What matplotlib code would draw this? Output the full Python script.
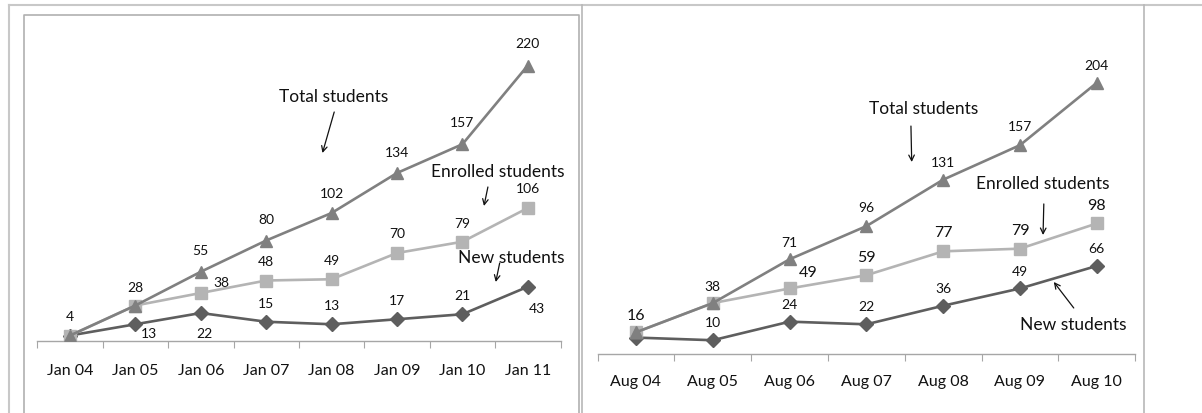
import numpy as np
import matplotlib
matplotlib.use("Agg")
import matplotlib.pyplot as plt
from matplotlib.lines import Line2D

plt.rcParams['font.family'] = ['Lato', 'DejaVu Sans']

# 左图数据（1月）
jan_labels = ['Jan 04', 'Jan 05', 'Jan 06', 'Jan 07', 'Jan 08', 'Jan 09', 'Jan 10', 'Jan 11']
jan_total = [4, 28, 55, 80, 102, 134, 157, 220]
jan_enrolled = [4, 28, 38, 48, 49, 70, 79, 106]
jan_new = [4, 13, 22, 15, 13, 17, 21, 43]

# 右图数据（8月）
aug_labels = ['Aug 04', 'Aug 05', 'Aug 06', 'Aug 07', 'Aug 08', 'Aug 09', 'Aug 10']
aug_total = [16, 38, 71, 96, 131, 157, 204]
aug_enrolled = [16, 38, 49, 59, 77, 79, 98]
aug_new = [12, 10, 24, 22, 36, 49, 66]

# 哪些点显示数值标签
jan_show = {
    'total': [1, 1, 1, 1, 1, 1, 1, 1],
    'enrolled': [0, 0, 1, 1, 1, 1, 1, 1],
    'new': [0, 1, 1, 1, 1, 1, 1, 1],
}
aug_show = {
    'total': [0, 1, 1, 1, 1, 1, 1],
    'enrolled': [1, 0, 1, 1, 1, 1, 1],
    'new': [0, 1, 1, 1, 1, 1, 1],
}

# 标签偏移（像素）
jan_off = {
    'total': [(0, 19), (0, 19), (0, 22), (0, 21), (0, 20), (0, 21), (0, 22), (0, 22)],
    'enrolled': [(0, 0), (0, 0), (21, 11), (0, 19), (0, 19), (0, 20), (0, 19), (0, 20)],
    'new': [(0, 0), (14, -9), (4, -20), (0, 19), (0, 19), (0, 19), (0, 19), (9, -21)],
}
aug_off = {
    'total': [(0, 0), (0, 17), (0, 17), (0, 19), (0, 18), (0, 19), (0, 18)],
    'enrolled': [(0, 17), (0, 0), (19, 16), (0, 18), (0, 19), (0, 19), (0, 18)],
    'new': [(0, 0), (0, 18), (0, 18), (0, 18), (0, 18), (0, 17), (0, 18)],
}

W, H = 1202, 414
fig = plt.figure(figsize=(W / 100, H / 100), dpi=100)


def px_rect(x0, y_base, x1, y_top):
    # 像素坐标 -> figure 比例
    return [x0 / W, (H - y_base) / H, (x1 - x0) / W, (y_base - y_top) / H]


def fline(xs, ys, color, lw):
    fig.add_artist(Line2D([x / W for x in xs], [1 - y / H for y in ys],
                          color=color, lw=lw, transform=fig.transFigure))


# 外框线
fline([9, W], [6, 6], '#c8c8c8', 1.5)
fline([9, 9], [6, H], '#c8c8c8', 1.5)
fline([24, 24, 579, 579], [H, 16, 16, H], '#b0b0b0', 1.2)
fline([582, 582], [6, H], '#b8b8b8', 1.2)
fline([1144, 1144], [6, H], '#b8b8b8', 1.2)

c_total = '#808080'
c_enrolled = '#b4b4b4'
c_new = '#5e5e5e'


def draw_panel(ax, labels, total, enrolled, new, show, off, ymax, pad, big_enrolled):
    x = np.arange(len(labels))
    ax.plot(x, new, color=c_new, lw=1.9, marker='D', ms=7, zorder=3)
    ax.plot(x, enrolled, color=c_enrolled, lw=1.9, marker='s', ms=8.5, zorder=4)
    ax.plot(x, total, color=c_total, lw=1.9, marker='^', ms=9, zorder=5)

    for key, vals in (('total', total), ('enrolled', enrolled), ('new', new)):
        fs = 11.5 if (key == 'enrolled' and big_enrolled) else 10
        for i, v in enumerate(vals):
            if not show[key][i]:
                continue
            ax.annotate(str(v), (x[i], v), xytext=off[key][i], textcoords='offset pixels',
                        ha='center', va='center', fontsize=fs, color='#111111')

    ax.set_xlim(-0.5, len(labels) - 0.5)
    ax.set_ylim(0, ymax)
    for s in ('top', 'right', 'left'):
        ax.spines[s].set_visible(False)
    ax.spines['bottom'].set_color('#a6a6a6')
    ax.spines['bottom'].set_linewidth(1.0)
    ax.set_yticks([])
    ax.set_xticks(np.arange(-0.5, len(labels), 1))
    ax.set_xticklabels([])
    ax.tick_params(axis='x', which='major', length=5, color='#a6a6a6', direction='out')
    ax.set_xticks(x, minor=True)
    ax.set_xticklabels(labels, minor=True, fontsize=11.5, color='#111111')
    ax.tick_params(axis='x', which='minor', length=0, pad=pad)
    ax.patch.set_alpha(0)


def note(ax, text, txy, start, tip):
    ax.text(txy[0], txy[1], text, ha='center', va='center', fontsize=12.5, color='#111111')
    ax.annotate('', xy=tip, xytext=start,
                arrowprops=dict(arrowstyle='->', color='#111111', lw=0.9, shrinkA=0, shrinkB=0))


# 左图
ax1 = fig.add_axes(px_rect(37.3, 341.5, 560.5, 341.5 - 260 * 1.25))
draw_panel(ax1, jan_labels, jan_total, jan_enrolled, jan_new, jan_show, jan_off, 260, 16, False)
note(ax1, 'Total students', (4.03, 195.6), (4.04, 182.8), (3.86, 150))
note(ax1, 'Enrolled students', (6.54, 135.6), (6.39, 122.8), (6.33, 107.6))
note(ax1, 'New students', (6.75, 66.8), (6.57, 62), (6.51, 46.8))

# 右图
ax2 = fig.add_axes(px_rect(597.6, 354.5, 1135.2, 354.5 - 250 * 1.327))
draw_panel(ax2, aug_labels, aug_total, aug_enrolled, aug_new, aug_show, aug_off, 250, 15, True)
note(ax2, 'Total students', (3.75, 185), (3.58, 171.4), (3.59, 144.3))
note(ax2, 'Enrolled students', (5.29, 128.5), (5.31, 112.7), (5.30, 89.3))
note(ax2, 'New students', (5.69, 22.2), (5.70, 34.3), (5.44, 53.9))

fig.savefig('out.png', dpi=100)
